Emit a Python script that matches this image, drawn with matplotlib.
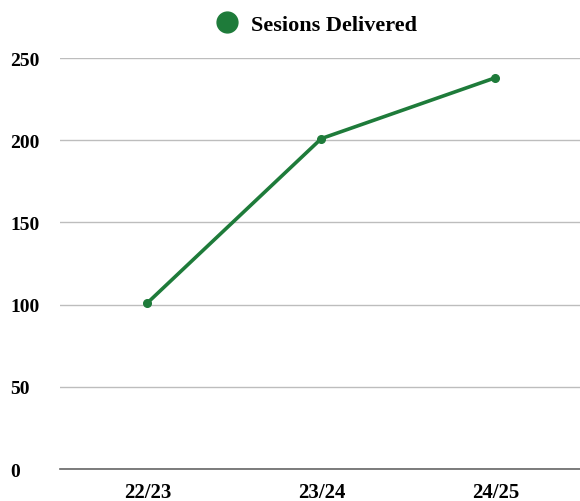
import matplotlib
matplotlib.use('Agg')
import matplotlib.pyplot as plt
from matplotlib.lines import Line2D

# data
years = ['22/23', '23/24', '24/25']
sessions = [101, 201, 238]
yticks = [0, 50, 100, 150, 200, 250]
series_name = 'Sesions Delivered'

green = '#1e7b3a'
plt.rcParams['font.family'] = ['Liberation Serif', 'DejaVu Serif']

fig = plt.figure(figsize=(5.8, 5.02), dpi=100)
ax = fig.add_axes([0.104, 0.0637, 0.9, 0.8187])

x = list(range(len(years)))
ax.plot(x, sessions, color=green, linewidth=2.6, marker='o', markersize=5.5,
        solid_capstyle='round', zorder=3)

ax.set_xlim(-0.5, 2.5)
ax.set_ylim(0, 250)
ax.set_yticks(yticks)
ax.set_yticklabels([str(t) for t in yticks], fontsize=14, fontweight='bold', ha='left')
ax.set_xticks(x)
ax.set_xticklabels(years, fontsize=15, fontweight='bold')
ax.tick_params(axis='y', length=0, pad=36)
ax.tick_params(axis='x', length=0, pad=9)

# horizontal grid only
ax.grid(axis='y', color='#bdbdbd', linewidth=1)
ax.set_axisbelow(True)
for s in ['top', 'right', 'left']:
    ax.spines[s].set_visible(False)
ax.spines['bottom'].set_color('#666666')
ax.spines['bottom'].set_linewidth(1.2)

# legend at top
handle = Line2D([], [], color=green, marker='o', linestyle='none', markersize=15)
ax.legend([handle], [series_name], loc='lower center', bbox_to_anchor=(0.48, 1.0),
          frameon=False, handletextpad=0.1, borderaxespad=0.65,
          prop={'size': 16, 'weight': 'bold'})

fig.savefig('out.png', dpi=100)
